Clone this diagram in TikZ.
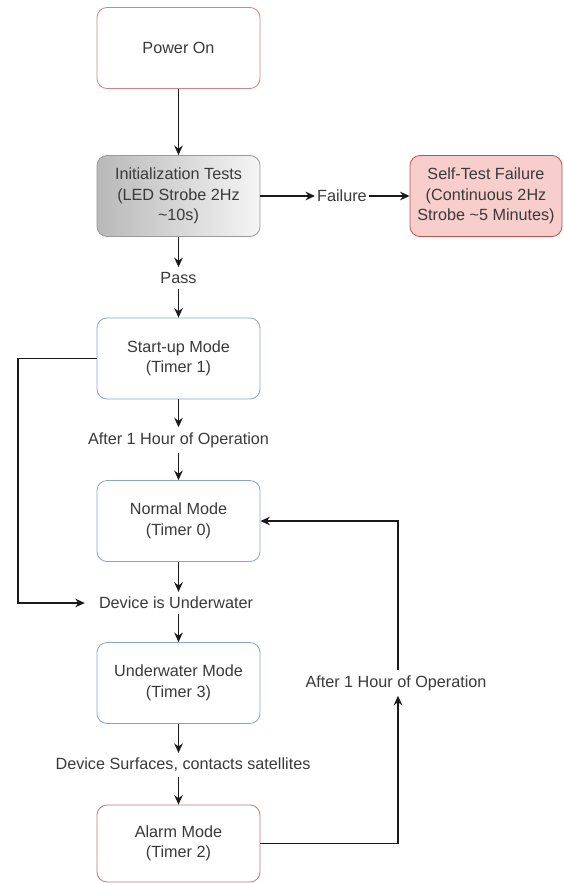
\documentclass[tikz,border=0pt]{standalone}
\usepackage{fontspec}
\setmainfont{Liberation Sans}
\usetikzlibrary{arrows.meta,positioning}
\definecolor{txt}{HTML}{3A3A3A}
\definecolor{redb}{HTML}{B85450}
\definecolor{redf}{HTML}{F8CECC}
\definecolor{blueb}{HTML}{6C8EBF}
\definecolor{line}{HTML}{1A1A1A}
\begin{document}
\begin{tikzpicture}[x=1pt,y=-1pt,
  every node/.style={font=\fontsize{16.2}{20.5}\selectfont, text=txt},
  box/.style={rectangle, rounded corners=10pt, minimum width=163pt, minimum height=81pt, align=center, line width=0.8pt},
  lbl/.style={inner xsep=2pt, inner ysep=5pt, fill=white},
  conn/.style={draw=line, line width=1.5pt, -{Stealth[length=9.5pt,width=8.5pt]}},
  plain/.style={draw=line, line width=1.5pt}
]
\useasboundingbox (0,0) rectangle (563,883);
\node[box, draw=redb!70, fill=white] (power) at (178.5,48) {Power On};
\node[box, draw=gray!80, left color=gray!55, right color=gray!8] (init) at (178.5,196) {Initialization Tests\\(LED Strobe 2Hz\\\textasciitilde10s)};
\node[box, draw=redb, fill=redf, minimum width=152pt] (fail) at (486,196) {Self-Test Failure\\(Continuous 2Hz\\Strobe \textasciitilde5 Minutes)};
\node[lbl] (failure) at (342,196) {Failure};
\node[lbl] (pass) at (178.5,278) {Pass};
\node[box, draw=blueb!80, fill=white] (startup) at (178.5,358.5) {Start-up Mode\\(Timer 1)};
\node[lbl] (after1) at (178.5,440) {After 1 Hour of Operation};
\node[box, draw=blueb!80, fill=white] (normal) at (178.5,521) {Normal Mode\\(Timer 0)};
\node[lbl] (under) at (176,603) {Device is Underwater};
\node[box, draw=blueb!80, fill=white] (uwmode) at (178.5,683) {Underwater Mode\\(Timer 3)};
\node[lbl] (surf) at (183,765) {Device Surfaces, contacts satellites};
\node[box, draw=redb!80, fill=white, minimum height=77pt] (alarm) at (178.5,843.5) {Alarm Mode\\(Timer 2)};
\node[lbl] (after2) at (396,683) {After 1 Hour of Operation};
\coordinate (lft) at (18,0);
\coordinate (rgt) at (398,0);

\draw[conn] (power) -- (init);
\draw[conn] (init) -- (failure);
\draw[conn] (failure) -- (fail);
\draw[conn] (init) -- (pass);
\draw[conn] (pass) -- (startup);
\draw[conn] (startup) -- (after1);
\draw[conn] (after1) -- (normal);
\draw[conn] (normal) -- (under.north -| normal);
\draw[conn] (under.south -| uwmode) -- (uwmode);
\draw[conn] (uwmode) -- (surf.north -| uwmode);
\draw[conn] (surf.south -| alarm) -- (alarm);
\draw[conn] (startup.west) -- (startup.west -| lft) -- (under.west -| lft) -- ([xshift=-12pt]under.west);
\draw[conn] (alarm.east) -- (alarm.east -| rgt) -- (after2.south -| rgt);
\draw[conn] (after2.north -| rgt) -- (normal.east -| rgt) -- (normal.east);
\end{tikzpicture}
\end{document}
